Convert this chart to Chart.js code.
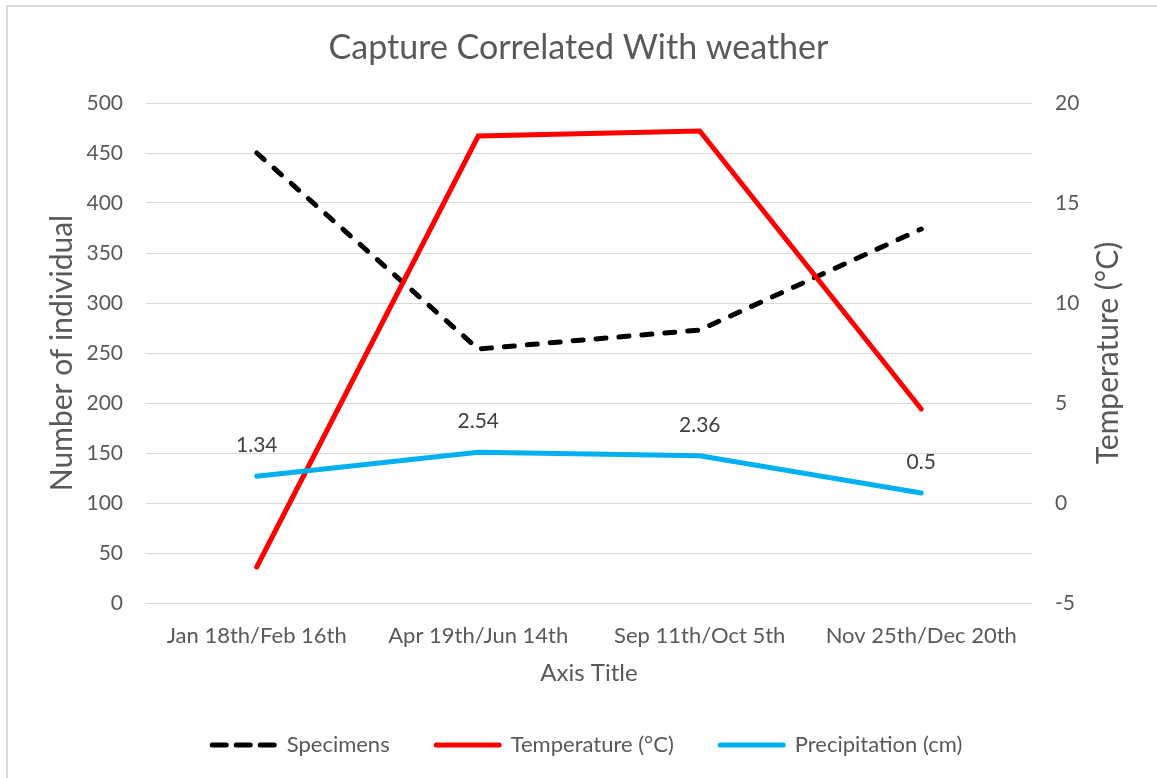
<!DOCTYPE html>
<html>
<head>
<meta charset="utf-8">
<title>Capture Correlated With weather</title>
<script src="https://cdn.jsdelivr.net/npm/chart.js@4.4.1/dist/chart.umd.min.js"></script>
<style>
  html, body { margin: 0; padding: 0; background: #fff; overflow: hidden; }
  #wrap { position: relative; width: 1157px; height: 778px; }
  #frame { position: absolute; left: 6px; top: 5px; width: 1200px; height: 900px; border-left: 2px solid #d9d9d9; border-top: 2px solid #d9d9d9; }
  #myChart { position: absolute; left: 0; top: 0; }
</style>
</head>
<body>
<div id="wrap">
  <div id="frame"></div>
  <canvas id="myChart" width="1157" height="778"></canvas>
</div>
<script>
const categories = ["Jan 18th/Feb 16th", "Apr 19th/Jun 14th", "Sep 11th/Oct 5th", "Nov 25th/Dec 20th"];
const specimens = [450, 254, 273, 374];
const temperature = [-3.2, 18.35, 18.6, 4.7];
const precipitation = [1.34, 2.54, 2.36, 0.5];

const FONT = "Lato";
const textColor = "#595959";

// left/right widths pin the plot area at x 146..1032
const leftWidth = 146;
const rightWidth = 1157 - 1032;

// custom legend at the bottom, dashed sample for specimens
const bottomLegend = {
  id: "bottomLegend",
  afterDraw(chart) {
    const ctx = chart.ctx;
    const items = chart.data.datasets.map((ds) => ({
      text: ds.label,
      color: ds.borderColor,
      dash: ds.borderDash ? [14, 10] : [],
    }));
    ctx.save();
    ctx.font = "22px " + FONT;
    const lineLen = 68;
    const gap = 9;
    const itemGap = 44;
    let total = 0;
    items.forEach((it, i) => {
      it.w = ctx.measureText(it.text).width;
      total += lineLen + gap + it.w + (i > 0 ? itemGap : 0);
    });
    let x = 586 - total / 2;
    const y = 745;
    items.forEach((it) => {
      ctx.beginPath();
      ctx.setLineDash(it.dash);
      ctx.lineCap = "round";
      ctx.lineWidth = 5;
      ctx.strokeStyle = it.color;
      ctx.moveTo(x + 2.5, y);
      ctx.lineTo(x + lineLen - 2.5, y);
      ctx.stroke();
      ctx.setLineDash([]);
      ctx.fillStyle = textColor;
      ctx.textAlign = "left";
      ctx.textBaseline = "middle";
      ctx.fillText(it.text, x + lineLen + gap, y);
      x += lineLen + gap + it.w + itemGap;
    });
    ctx.restore();
  },
};

// value labels above the precipitation line
const precipLabels = {
  id: "precipLabels",
  afterDatasetsDraw(chart) {
    const ctx = chart.ctx;
    const meta = chart.getDatasetMeta(2);
    ctx.save();
    ctx.font = "21px " + FONT;
    ctx.fillStyle = "#404040";
    ctx.textAlign = "center";
    ctx.textBaseline = "middle";
    meta.data.forEach((pt, i) => {
      ctx.fillText(String(precipitation[i]), pt.x, pt.y - 31);
    });
    ctx.restore();
  },
};

// right axis title reads bottom to top like the left one
const rightTitle = {
  id: "rightTitle",
  afterDraw(chart) {
    const ctx = chart.ctx;
    const area = chart.chartArea;
    ctx.save();
    ctx.translate(1108, (area.top + area.bottom) / 2);
    ctx.rotate(-Math.PI / 2);
    ctx.font = "30px " + FONT;
    ctx.fillStyle = textColor;
    ctx.textAlign = "center";
    ctx.textBaseline = "middle";
    ctx.fillText("Temperature (°C)", 0, 0);
    ctx.restore();
  },
};

const data = {
  labels: categories,
  datasets: [
    {
      label: "Specimens",
      data: specimens,
      yAxisID: "y",
      borderColor: "#000000",
      backgroundColor: "#000000",
      borderWidth: 5,
      borderDash: [10, 13],
      borderCapStyle: "round",
      pointRadius: 0,
      order: 3,
    },
    {
      label: "Temperature (°C)",
      data: temperature,
      yAxisID: "y1",
      borderColor: "#ff0000",
      backgroundColor: "#ff0000",
      borderWidth: 5,
      borderCapStyle: "round",
      pointRadius: 0,
      order: 2,
    },
    {
      label: "Precipitation (cm)",
      data: precipitation,
      yAxisID: "y1",
      borderColor: "#00b0f0",
      backgroundColor: "#00b0f0",
      borderWidth: 5,
      borderCapStyle: "round",
      pointRadius: 0,
      order: 1,
    },
  ],
};

const config = {
  type: "line",
  data,
  options: {
    responsive: false,
    animation: false,
    layout: {
      padding: { top: 0, left: 0, right: 0, bottom: 75 },
    },
    plugins: {
      legend: { display: false },
      tooltip: { enabled: false },
      title: {
        display: true,
        text: "Capture Correlated With weather",
        color: textColor,
        font: { family: FONT, size: 34, weight: "normal" },
        padding: { top: 27.6, bottom: 34.6 },
      },
    },
    scales: {
      x: {
        offset: true,
        grid: { display: false, drawTicks: false },
        border: { display: false },
        ticks: {
          color: textColor,
          font: { family: FONT, size: 22 },
          padding: 20,
          maxRotation: 0,
        },
        title: {
          display: true,
          text: "Axis Title",
          color: textColor,
          font: { family: FONT, size: 24 },
          padding: { top: 0, bottom: 15.6 },
        },
        afterFit(scale) {
          scale.height = 100;
        },
      },
      y: {
        position: "left",
        min: 0,
        max: 500,
        grid: { color: "#d9d9d9", lineWidth: 1, drawTicks: false },
        border: { display: false },
        ticks: {
          stepSize: 50,
          color: textColor,
          font: { family: FONT, size: 21 },
          padding: 23,
        },
        title: {
          display: true,
          text: "Number of individual",
          color: textColor,
          font: { family: FONT, size: 30 },
          padding: { top: 44, bottom: 0 },
        },
        afterFit(scale) {
          scale.width = leftWidth;
        },
      },
      y1: {
        position: "right",
        min: -5,
        max: 20,
        grid: { display: false, drawTicks: false },
        border: { display: false },
        ticks: {
          stepSize: 5,
          color: textColor,
          font: { family: FONT, size: 21 },
          padding: 23,
        },
        afterFit(scale) {
          scale.width = rightWidth;
        },
      },
    },
  },
  plugins: [precipLabels, rightTitle, bottomLegend],
};

const myChart = new Chart(document.getElementById("myChart"), config);
</script>
</body>
</html>
